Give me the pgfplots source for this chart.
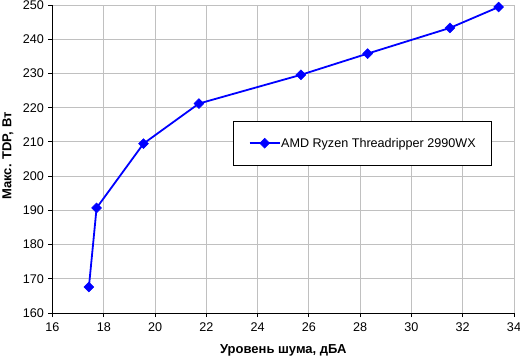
\documentclass[border=0pt]{standalone}
\usepackage{pgfplots}
\pgfplotsset{compat=1.18}
\usepackage{fontspec}
\setmainfont{Liberation Sans}
\definecolor{gridgray}{RGB}{192,192,192}
\definecolor{serblue}{RGB}{0,0,255}
\begin{document}
\begin{tikzpicture}
\useasboundingbox (-52.5bp,-43bp) rectangle (467.5bp,313bp);
\begin{axis}[
  at={(0,0)}, anchor=south west,
  scale only axis,
  width=461.5bp, height=308bp,
  xmin=16, xmax=34, ymin=160, ymax=250,
  xtick={16,18,...,34}, ytick={160,170,...,250},
  axis lines=left,
  axis line style={-, black, line width=0.8bp},
  tick align=outside,
  major tick length=4bp,
  tick style={black, line width=0.8bp},
  grid=major,
  grid style={gridgray, line width=0.8bp},
  /pgf/number format/assume math mode=true,
  ticklabel style={font=\fontsize{12.6bp}{14bp}\selectfont},
  xticklabel style={yshift=-2bp},
  yticklabel style={xshift=-1bp},
  xlabel={Уровень шума, дБА},
  ylabel={Макс. TDP, Вт},
  label style={font=\bfseries\fontsize{13bp}{15bp}\selectfont},
  xlabel style={at={(axis description cs:0.5,-0.12)}, anchor=center},
  ylabel style={at={(axis description cs:-0.0964,0.51)}, anchor=center},
  legend style={at={(0.392,0.625)}, anchor=north west, draw=black, line width=0.8bp,
    fill=white, font=\fontsize{12.6bp}{15bp}\selectfont,
    inner xsep=15bp, inner ysep=16.5bp,
    nodes={inner sep=0.5bp}},
  legend cell align=left,
  legend image code/.code={\draw[mark repeat=2,mark phase=2] plot coordinates {(0bp,0bp)(15bp,0bp)(30bp,0bp)};},
]
\addplot[serblue, line width=1.8bp, mark=square*, mark size=3.5bp,
  mark options={rotate=45, solid, fill=serblue, line width=0.5bp}]
  coordinates {
  (17.42,167.6) (17.72,190.7) (19.55,209.5) (21.71,221.2)
  (25.69,229.6) (28.29,235.8) (31.50,243.3) (33.40,249.4)
  };
\addlegendentry{AMD Ryzen Threadripper 2990WX}
\end{axis}
\end{tikzpicture}
\end{document}
